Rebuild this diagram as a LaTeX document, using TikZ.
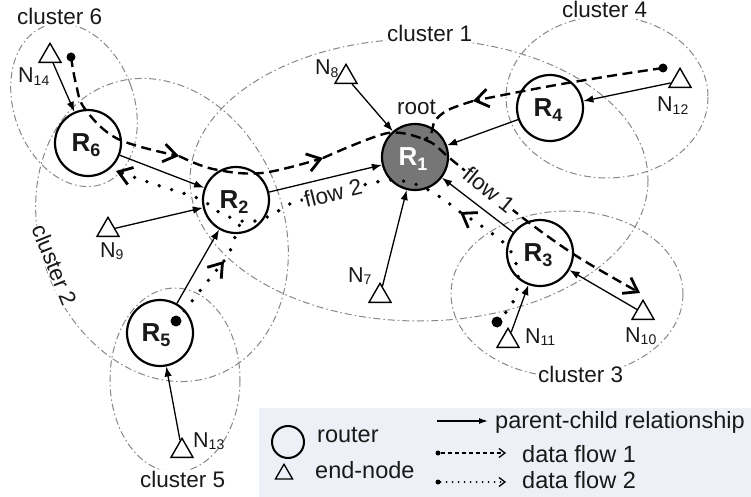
\documentclass[tikz,border=0pt]{standalone}
\usepackage{fontspec}
\setmainfont{Liberation Sans}
\usetikzlibrary{arrows.meta,shapes.geometric}
\definecolor{legendbg}{RGB}{237,241,247}
\definecolor{clgray}{RGB}{135,135,135}
\definecolor{rootgray}{RGB}{118,118,118}
\definecolor{txt}{RGB}{25,25,25}
\newcommand\mysub[1]{\raisebox{-2.5pt}{\fontsize{14}{14}\selectfont #1}}
\newcommand\rlab[1]{{\fontsize{26}{26}\selectfont\bfseries R\raisebox{-5pt}{\fontsize{18}{18}\selectfont #1}}}
\tikzset{
  router/.style={circle, draw, line width=2.2pt, minimum size=66pt, inner sep=0pt},
  endnode/.style={regular polygon, regular polygon sides=3, draw, line width=1.4pt, minimum size=25.4pt, inner sep=0pt, fill=white},
  pc/.style={line width=1.3pt, -{Latex[length=10pt,width=7.5pt]}},
  flowone/.style={line width=2.4pt, dash pattern=on 10pt off 5.5pt},
  flowtwo/.style={line width=3.8pt, line cap=round, dash pattern=on 0pt off 13pt},
  chevone/.style={-{Straight Barb[length=13pt,width=18pt,line width'=2.8pt]}},
  chevtwo/.style={-{Straight Barb[length=13pt,width=18pt,line width'=2.8pt]}},
  cluster/.style={draw=clgray, line width=1pt, dash pattern=on 7pt off 3pt on 1.5pt off 3pt},
  src/.style={circle, fill=black, inner sep=0pt, minimum size=9pt},
  lab/.style={font=\fontsize{22.5}{24}\selectfont, text=txt, inner sep=0pt},
  leg/.style={font=\fontsize{23.5}{25}\selectfont, text=txt, inner sep=0pt, anchor=base west},
  clab/.style={lab, fill=white, inner sep=1pt},
  nlab/.style={font=\fontsize{21.5}{24}\selectfont, text=txt, inner sep=0pt, anchor=base west},
}
\begin{document}
\begin{tikzpicture}[x=1pt,y=-1pt]
\useasboundingbox (0,0) rectangle (751,497);
% legend background
\fill[legendbg] (259,408) rectangle (751,497);

% clusters
\draw[cluster] (419,180) ellipse [x radius=229, y radius=141];
\draw[cluster, rotate around={20:(162,230)}] (162,230) ellipse [x radius=122, y radius=155];
\draw[cluster, rotate around={20:(74,105)}] (74,105) ellipse [x radius=60, y radius=84];
\draw[cluster] (607,97) ellipse [x radius=101, y radius=81];
\draw[cluster] (567,294) ellipse [x radius=116, y radius=83];
\draw[cluster] (175,380) ellipse [x radius=65, y radius=92];

\node[clab, anchor=base west] (lc6) at (16,25) {cluster 6};
\node[clab, anchor=base west] (lc1) at (386,42) {cluster 1};
\node[clab, anchor=base west] (lc4) at (561,18) {cluster 4};
\node[clab, anchor=base west] (lc3) at (537,382) {cluster 3};
\node[clab, anchor=base west] (lc5) at (139,487) {cluster 5};
\node[clab, rotate=-68] (lc2) at (55,265) {cluster 2};

% routers
\node[router, fill=rootgray] (R1) at (415,157) {};
\node[router] (R2) at (236,200) {};
\node[router] (R3) at (540,253) {};
\node[router] (R4) at (550,108) {};
\node[router] (R5) at (160,333) {};
\node[router] (R6) at (88,143) {};

% end nodes
\node[endnode] (N14) at (50,56) {};
\node[endnode] (N8) at (346,77) {};
\node[endnode] (N12) at (680,81) {};
\node[endnode] (N9) at (108,230) {};
\node[endnode] (N7) at (380,296) {};
\node[endnode] (N11) at (508,341) {};
\node[endnode] (N10) at (643,313) {};
\node[endnode] (N13) at (182,451) {};

% flow waypoints
\coordinate (F1s) at (71,57);
\coordinate (a1) at (76,84);
\coordinate (a2) at (85,109);
\coordinate (a3) at (118,139);
\coordinate (c1) at (179,156);
\coordinate (a4) at (213,169);
\coordinate (a5) at (262,173);
\coordinate (c2) at (323,158);
\coordinate (a6) at (388,133);
\coordinate (a7) at (428,141);
\coordinate (a8) at (452,160);
\coordinate (a9) at (523,218);
\coordinate (a10) at (578,257);
\coordinate (c3) at (640,293);

\coordinate (F1t) at (663,68);
\coordinate (b1) at (610,76);
\coordinate (b2) at (545,87);
\coordinate (c4) at (473,101);
\coordinate (b3) at (448,110);
\coordinate (b4) at (435,121);
\coordinate (b5) at (431,134);
\coordinate (b6) at (424,140);

\coordinate (F2s) at (497,322);
\coordinate (d1) at (513,302);
\coordinate (d2) at (518,275);
\coordinate (d3) at (510,250);
\coordinate (d4) at (490,232);
\coordinate (c5) at (460,212);
\coordinate (d5) at (440,197);
\coordinate (d6) at (418,185);
\coordinate (d7) at (395,180);
\coordinate (d8) at (372,183);
\coordinate (d9) at (295,202);
\coordinate (d10) at (272,215);
\coordinate (d11) at (248,222);
\coordinate (d12) at (222,214);
\coordinate (d13) at (200,199);
\coordinate (d14) at (160,186);
\coordinate (c6) at (116,171);

\coordinate (F2t) at (176,321);
\coordinate (e1) at (192,301);
\coordinate (e2) at (207,282);
\coordinate (c7) at (224,261);
\coordinate (e3) at (231,249);
\coordinate (e4) at (236,234);
\coordinate (e5) at (240,224);

% data flow 1
\draw[flowone, chevone] plot[smooth, tension=0.6] coordinates {(F1s) (a1) (a2) (a3) (c1)};
\draw[flowone, chevone] plot[smooth, tension=0.6] coordinates {(c1) (a4) (a5) (c2)};
\draw[flowone, chevone] plot[smooth, tension=0.5] coordinates {(c2) (a6) (a7) (a8) (a9) (a10) (c3)};
\draw[flowone, chevone] plot[smooth, tension=0.6] coordinates {(F1t) (b1) (b2) (c4)};
\draw[flowone] plot[smooth, tension=0.6] coordinates {(c4) (b3) (b4) (b5) (b6)};

% data flow 2
\draw[flowtwo, chevtwo] plot[smooth, tension=0.6] coordinates {(F2s) (d1) (d2) (d3) (d4) (c5)};
\draw[flowtwo, chevtwo] plot[smooth, tension=0.5] coordinates {(c5) (d5) (d6) (d7) (d8) (d9) (d10) (d11) (d12) (d13) (d14) (c6)};
\draw[flowtwo, chevtwo] plot[smooth, tension=0.6] coordinates {(F2t) (e1) (e2) (c7)};
\draw[flowtwo] plot[smooth, tension=0.6] coordinates {(c7) (e3) (e4) (e5)};

% flow labels
\node[lab, fill=white, inner sep=1.5pt, rotate=-39] (lf1) at (489,190) {flow 1};
\node[lab, fill=white, inner sep=1.5pt, rotate=14] (lf2) at (333,193) {flow 2};

% sources
\node[src] (s1) at (F1s) {};
\node[src] (s2) at (F1t) {};
\node[src, minimum size=11pt] (s3) at (F2s) {};
\node[src, minimum size=11pt] (s4) at (F2t) {};

% parent-child
\draw[pc] (N14) -- (R6);
\draw[pc] (N8) -- (R1);
\draw[pc] (N12) -- (R4);
\draw[pc] (R4) -- (R1);
\draw[pc] (R6) -- (R2);
\draw[pc] (N9) -- (R2);
\draw[pc] (R5) -- (R2);
\draw[pc] (R2) -- (R1);
\draw[pc] (N7) -- (R1);
\draw[pc] (R3) -- (R1);
\draw[pc] (N11) -- (R3);
\draw[pc] (N10) -- (R3);
\draw[pc] (N13) -- (R5);

% router labels
\node[text=white, inner sep=0pt] (tR1) at (413,159) {\rlab{1}};
\node[text=txt, inner sep=0pt] (tR2) at (234,202) {\rlab{2}};
\node[text=txt, inner sep=0pt] (tR3) at (538,255) {\rlab{3}};
\node[text=txt, inner sep=0pt] (tR4) at (548,110) {\rlab{4}};
\node[text=txt, inner sep=0pt] (tR5) at (156,335) {\rlab{5}};
\node[text=txt, inner sep=0pt] (tR6) at (86,145) {\rlab{6}};
\node[lab, anchor=base west] (troot) at (397,115) {root};

% end-node labels
\node[nlab] (tN14) at (18,83) {N\mysub{14}};
\node[nlab] (tN8) at (315,75) {N\mysub{8}};
\node[nlab] (tN12) at (657,112) {N\mysub{12}};
\node[nlab] (tN9) at (100,257) {N\mysub{9}};
\node[nlab] (tN7) at (348,282) {N\mysub{7}};
\node[nlab] (tN11) at (525,343) {N\mysub{11}};
\node[nlab] (tN10) at (625,342) {N\mysub{10}};
\node[nlab] (tN13) at (193,447) {N\mysub{13}};

% legend
\node[router, minimum size=32pt, line width=2pt] (lgR) at (288,442) {};
\node[endnode, minimum size=19.6pt, line width=1.3pt, fill=none] (lgN) at (284,474) {};
\node[leg] (lgRt) at (317,442) {router};
\node[leg] (lgNt) at (315,478) {end-node};
\coordinate (lgA1) at (437,421);
\coordinate (lgA2) at (488,421);
\draw[pc, -{Latex[length=9pt,width=6pt]}] (lgA1) -- (lgA2);
\node[leg] (lgPt) at (495,428) {parent-child relationship};
\node[src, minimum size=5pt] (lgD1) at (438,453) {};
\coordinate (lgD1e) at (506,453);
\draw[line width=1.3pt, dash pattern=on 4pt off 3pt, -{Straight Barb[length=6pt,width=9pt]}] (lgD1) -- (lgD1e);
\node[leg] (lgF1) at (522,462) {data flow 1};
\node[src, minimum size=5pt] (lgD2) at (438,482) {};
\coordinate (lgD2e) at (506,482);
\draw[line width=2pt, line cap=round, dash pattern=on 0pt off 6pt, -{Straight Barb[length=6pt,width=9pt,line width'=1.3pt]}] (lgD2) -- (lgD2e);
\node[leg] (lgF2) at (522,488) {data flow 2};
\end{tikzpicture}
\end{document}
